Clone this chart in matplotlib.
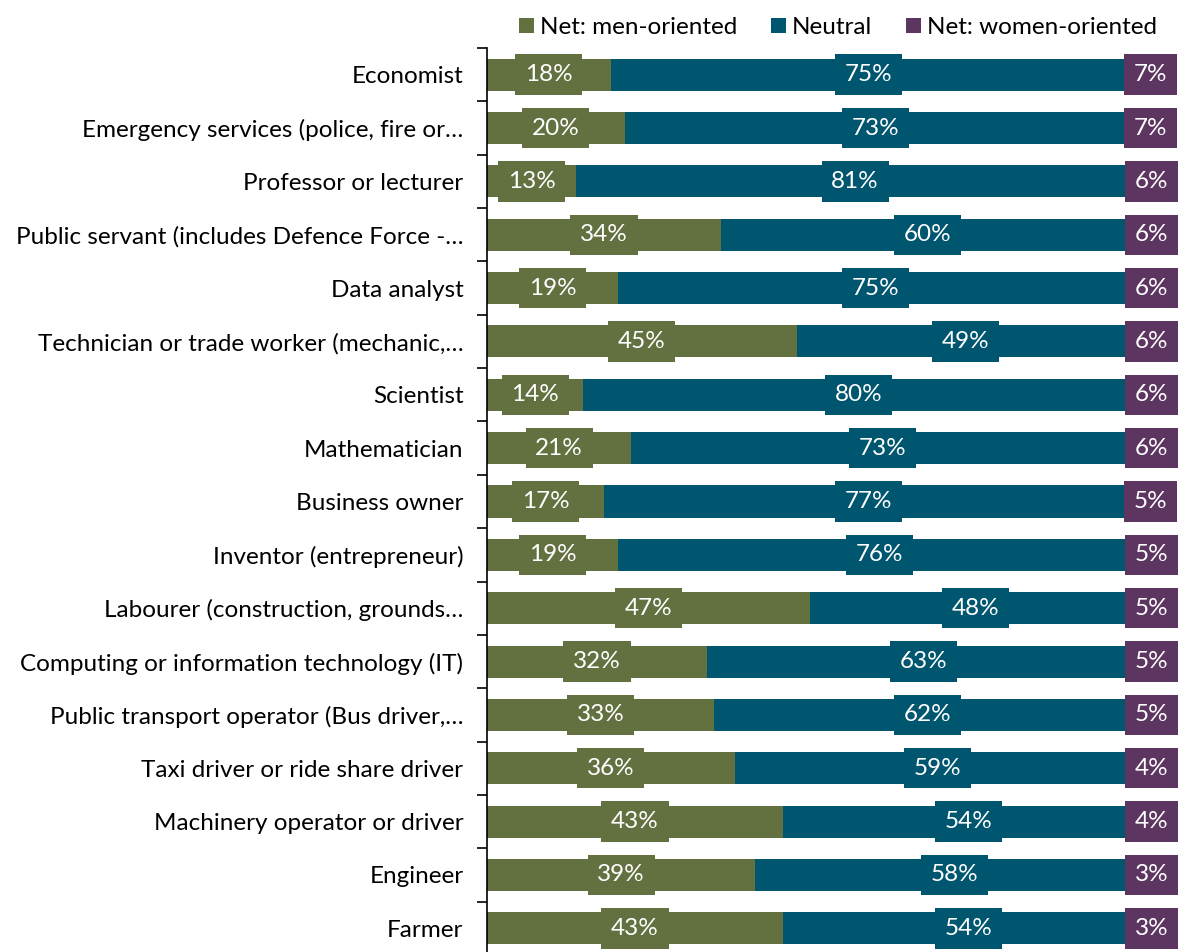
import numpy as np
import matplotlib.pyplot as plt

plt.rcParams['font.family'] = ['Lato', 'DejaVu Sans']

jobs = ["Economist", "Emergency services (police, fire or…",
        "Professor or lecturer", "Public servant (includes Defence Force -…",
        "Data analyst", "Technician or trade worker (mechanic,…",
        "Scientist", "Mathematician", "Business owner",
        "Inventor (entrepreneur)", "Labourer (construction, grounds…",
        "Computing or information technology (IT)",
        "Public transport operator (Bus driver,…",
        "Taxi driver or ride share driver", "Machinery operator or driver",
        "Engineer", "Farmer"]
men = [18, 20, 13, 34, 19, 45, 14, 21, 17, 19, 47, 32, 33, 36, 43, 39, 43]
neutral = [75, 73, 81, 60, 75, 49, 80, 73, 77, 76, 48, 63, 62, 59, 54, 58, 54]
women = [7, 7, 6, 6, 6, 6, 6, 6, 5, 5, 5, 5, 5, 4, 4, 3, 3]

series = [("Net: men-oriented", men, "#637141"),
          ("Neutral", neutral, "#00566F"),
          ("Net: women-oriented", women, "#5C3560")]

fig = plt.figure(figsize=(11.87, 9.52), dpi=100)
ax = fig.add_axes([487 / 1187, -3 / 952, 688 / 1187, 907 / 952])

y = np.arange(len(jobs))
left = np.zeros(len(jobs))
for name, vals, col in series:
    vals = np.array(vals, dtype=float)
    ax.barh(y, vals, left=left, height=0.6, color=col, label=name)
    for yi, (l, v) in enumerate(zip(left, vals)):
        # keep the small end labels inside the plot area
        x = min(l + v / 2, 96.6)
        ax.text(x, yi, f"{int(v)}%", ha="center", va="center",
                color="white", fontsize=17.5,
                bbox=dict(boxstyle="square,pad=0.4", fc=col, ec="none"))
    left += vals

ax.set_xlim(0, 100)
ax.set_ylim(len(jobs) - 0.5, -0.5)
ax.set_xticks([])
ax.set_yticks(y)
ax.set_yticklabels(jobs, fontsize=17.5)
ax.tick_params(axis="y", which="major", length=0, pad=17)
ax.set_yticks(np.arange(-0.5, len(jobs)), minor=True)
ax.tick_params(axis="y", which="minor", length=7, width=1.2, color="black")
for s in ["top", "right", "bottom"]:
    ax.spines[s].set_visible(False)
ax.spines["left"].set_linewidth(1.2)

ax.legend(loc="lower center", bbox_to_anchor=(0.51, 1.0), ncol=3, frameon=False,
          fontsize=17.5, handlelength=0.6, handleheight=0.6, handletextpad=0.25,
          columnspacing=1.4, borderaxespad=0)

fig.savefig("out.png", dpi=100)
